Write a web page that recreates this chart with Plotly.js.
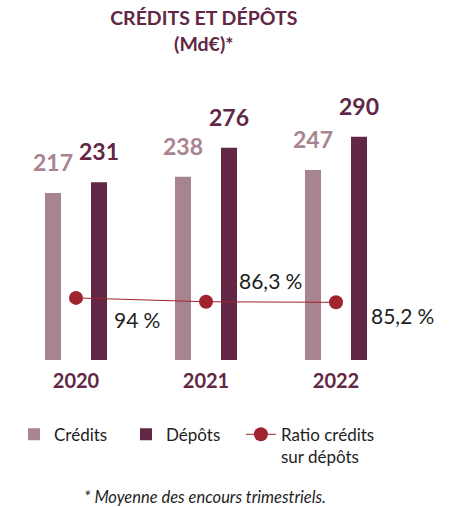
<!DOCTYPE html>
<html>
<head>
<meta charset="utf-8">
<script src="https://cdn.plot.ly/plotly-3.0.1.min.js"></script>
<style>html,body{margin:0;padding:0;background:#fff;}#chart{width:458px;height:507px;}</style>
</head>
<body>
<div id="chart"></div>
<script>
// ---- data ----
const years = ['2020', '2021', '2022'];
const credits = [217, 238, 247];
const depots = [231, 276, 290];
const ratio = [94, 86.3, 85.2];
const ratioLabels = ['94\u202f%', '86,3\u202f%', '85,2\u202f%'];
const seriesNames = ['Crédits', 'Dépôts', 'Ratio crédits<br>sur dépôts'];

// ---- style ----
const FONT = 'Lato, "Noto Sans", sans-serif';
const C_CRED = '#a7848f';
const C_DEP = '#612744';
const C_RATIO = '#a0232e';
const C_TEXT = '#1e1e1e';

const traces = [
  {type: 'bar', name: seriesNames[0], x: years, y: credits, marker: {color: C_CRED}, hoverinfo: 'skip'},
  {type: 'bar', name: seriesNames[1], x: years, y: depots, marker: {color: C_DEP}, hoverinfo: 'skip'},
  {type: 'scatter', mode: 'lines+markers', name: seriesNames[2], x: years, y: ratio, yaxis: 'y2', legend: 'legend2',
   line: {color: C_RATIO, width: 1}, marker: {color: C_RATIO, size: 14}, hoverinfo: 'skip', cliponaxis: false}
];

const annotations = [];
years.forEach((yr, i) => {
  annotations.push({x: i, y: credits[i], xref: 'x', yref: 'y', text: String(credits[i]), showarrow: false,
    xshift: -23, yshift: 31, yanchor: 'middle', font: {family: FONT, size: 23, color: C_CRED, weight: 'bold'}});
  annotations.push({x: i, y: depots[i], xref: 'x', yref: 'y', text: String(depots[i]), showarrow: false,
    xshift: 23, yshift: 31, yanchor: 'middle', font: {family: FONT, size: 23, color: C_DEP, weight: 'bold'}});
});
const ratioXShift = [61, 64, 66];
const ratioYShift = [-22, 21, -13];
years.forEach((yr, i) => {
  annotations.push({x: i, y: ratio[i], xref: 'x', yref: 'y2', text: ratioLabels[i], showarrow: false,
    xshift: ratioXShift[i], yshift: ratioYShift[i], yanchor: 'middle',
    font: {family: FONT, size: 21, color: C_TEXT}});
});
annotations.push({xref: 'paper', yref: 'paper', x: 0.497, y: -0.527, text: '<i>* Moyenne des encours trimestriels.</i>',
  showarrow: false, xanchor: 'center', yanchor: 'middle', font: {family: FONT, size: 16.5, color: C_TEXT}});

const legendFont = {family: FONT, size: 17, color: C_TEXT};
const layout = {
  width: 458, height: 507,
  margin: {l: 11, r: 57, t: 100, b: 147, pad: 0},
  paper_bgcolor: '#fff', plot_bgcolor: '#fff',
  font: {family: FONT, color: C_TEXT},
  title: {text: 'CRÉDITS ET DÉPÔTS<br>(Md€)*', x: 0.445, xanchor: 'center', xref: 'container',
          y: 0.95, yanchor: 'top', yref: 'container',
          font: {family: FONT, size: 19.5, color: C_DEP, weight: 'bold'}},
  barmode: 'group', bargap: 0.292, bargroupgap: 0.652,
  xaxis: {type: 'category', range: [-0.5, 2.5], showgrid: false, zeroline: false, showline: false, ticks: '',
          ticklabelstandoff: 7,
          tickfont: {family: FONT, size: 20, color: C_DEP, weight: 'bold'}, fixedrange: true},
  yaxis: {range: [0, 337.9], showgrid: false, zeroline: false, showticklabels: false, fixedrange: true},
  yaxis2: {range: [-30.2, 489.8], overlaying: 'y', side: 'right', showgrid: false, zeroline: false,
           showticklabels: false, fixedrange: true},
  showlegend: true,
  legend: {orientation: 'h', xref: 'container', yref: 'container', x: 0.0306, xanchor: 'left',
           y: 0.178, yanchor: 'top', valign: 'top', entrywidth: 67, entrywidthmode: 'pixels',
           font: legendFont, traceorder: 'normal', bgcolor: 'rgba(0,0,0,0)'},
  legend2: {orientation: 'h', xref: 'container', yref: 'container', x: 0.526, xanchor: 'left',
           y: 0.178, yanchor: 'top', valign: 'top',
           font: legendFont, bgcolor: 'rgba(0,0,0,0)'},
  annotations: annotations,
  hovermode: false
};

Plotly.newPlot('chart', traces, layout, {displayModeBar: false, staticPlot: true});
</script>
</body>
</html>
